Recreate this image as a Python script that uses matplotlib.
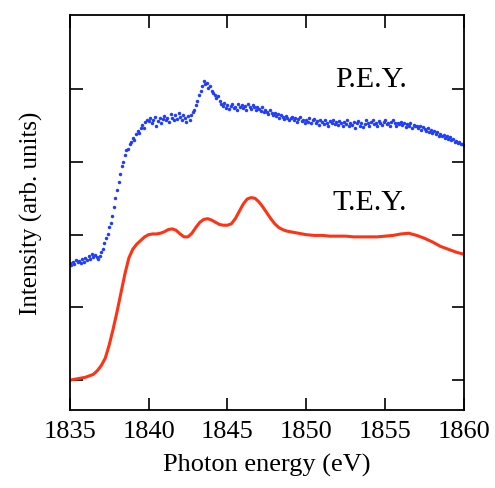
import matplotlib.pyplot as plt
import numpy as np

plt.rcParams['font.family'] = ['Liberation Serif', 'DejaVu Serif']

# P.E.Y. (partial electron yield), 0.1 eV steps from 1835 to 1860
pey = [
    1.61, 1.58, 1.62, 1.60, 1.65, 1.62, 1.64, 1.61, 1.66, 1.63,
    1.68, 1.65, 1.71, 1.67, 1.74, 1.69, 1.72, 1.70, 1.67, 1.71,
    1.76, 1.80, 1.88, 1.95, 2.01, 2.10, 2.16, 2.26, 2.38, 2.50,
    2.62, 2.73, 2.84, 2.95, 3.00, 3.09, 3.16, 3.18, 3.25, 3.28,
    3.33, 3.30, 3.38, 3.42, 3.40, 3.47, 3.51, 3.46, 3.55, 3.58,
    3.56, 3.61, 3.54, 3.58, 3.62, 3.50, 3.56, 3.60, 3.53, 3.59,
    3.63, 3.57, 3.61, 3.55, 3.66, 3.60, 3.58, 3.64, 3.59, 3.67,
    3.62, 3.57, 3.65, 3.60, 3.55, 3.63, 3.58, 3.64, 3.68, 3.72,
    3.78, 3.84, 3.92, 3.98, 4.05, 4.11, 4.07, 4.09, 4.02, 4.04,
    3.98, 3.95, 3.92, 3.88, 3.90, 3.84, 3.80, 3.77, 3.81, 3.74,
    3.78, 3.73, 3.77, 3.80, 3.74, 3.76, 3.71, 3.79, 3.75, 3.78,
    3.74, 3.77, 3.72, 3.80, 3.76, 3.73, 3.78, 3.75, 3.71, 3.76,
    3.73, 3.70, 3.75, 3.68, 3.72, 3.69, 3.66, 3.71, 3.67, 3.64,
    3.67, 3.63, 3.66, 3.60, 3.64, 3.62, 3.59, 3.63, 3.61, 3.57,
    3.60, 3.62, 3.57, 3.61, 3.55, 3.59, 3.62, 3.56, 3.58, 3.54,
    3.58, 3.55, 3.60, 3.53, 3.57, 3.59, 3.54, 3.56, 3.51, 3.57,
    3.55, 3.52, 3.58, 3.54, 3.50, 3.56, 3.53, 3.57, 3.52, 3.55,
    3.51, 3.56, 3.53, 3.49, 3.55, 3.52, 3.57, 3.50, 3.54, 3.51,
    3.55, 3.47, 3.53, 3.56, 3.50, 3.54, 3.48, 3.52, 3.57, 3.53,
    3.50, 3.55, 3.58, 3.52, 3.54, 3.49, 3.56, 3.53, 3.51, 3.55,
    3.57, 3.52, 3.54, 3.50, 3.55, 3.58, 3.53, 3.49, 3.54, 3.52,
    3.55, 3.51, 3.53, 3.48, 3.52, 3.50, 3.54, 3.47, 3.51, 3.49,
    3.50, 3.46, 3.49, 3.44, 3.48, 3.45, 3.42, 3.46, 3.41, 3.44,
    3.40, 3.43, 3.38, 3.41, 3.36, 3.39, 3.35, 3.37, 3.33, 3.35,
    3.32, 3.34, 3.30, 3.31, 3.28, 3.29, 3.26, 3.27, 3.24, 3.25,
    3.23,
]
pey_energy = np.linspace(1835, 1860, len(pey))

# T.E.Y. (total electron yield)
tey_energy = [
    1835.0, 1835.25, 1835.5, 1835.75, 1836.0, 1836.25, 1836.5, 1836.75,
    1837.0, 1837.25, 1837.5, 1837.75, 1838.0, 1838.25, 1838.5, 1838.75,
    1839.0, 1839.25, 1839.5, 1839.75, 1840.0, 1840.25, 1840.5, 1840.75,
    1841.0, 1841.25, 1841.5, 1841.75, 1842.0, 1842.25, 1842.5, 1842.75,
    1843.0, 1843.25, 1843.5, 1843.75, 1844.0, 1844.25, 1844.5, 1844.75,
    1845.0, 1845.25, 1845.5, 1845.75, 1846.0, 1846.25, 1846.5, 1846.75,
    1847.0, 1847.25, 1847.5, 1847.75, 1848.0, 1848.25, 1848.5, 1848.75,
    1849.0, 1849.5, 1850.0, 1850.5, 1851.0, 1851.5, 1852.0, 1852.5,
    1853.0, 1853.5, 1854.0, 1854.5, 1855.0, 1855.5, 1856.0, 1856.5,
    1857.0, 1857.5, 1858.0, 1858.5, 1859.0, 1859.5, 1860.0,
]
tey = [
    0.00, 0.01, 0.02, 0.03, 0.04, 0.06, 0.08, 0.13,
    0.20, 0.30, 0.48, 0.70, 0.94, 1.20, 1.46, 1.68,
    1.80, 1.87, 1.92, 1.97, 2.00, 2.01, 2.01, 2.02,
    2.04, 2.07, 2.08, 2.06, 2.01, 1.97, 1.97, 2.02,
    2.10, 2.17, 2.21, 2.22, 2.20, 2.17, 2.14, 2.13,
    2.13, 2.15, 2.22, 2.32, 2.42, 2.49, 2.51, 2.50,
    2.45, 2.38, 2.30, 2.22, 2.15, 2.10, 2.07, 2.05,
    2.04, 2.02, 2.00, 1.99, 1.99, 1.98, 1.98, 1.98,
    1.97, 1.97, 1.97, 1.97, 1.98, 1.99, 2.01, 2.02,
    1.99, 1.95, 1.90, 1.84, 1.80, 1.76, 1.73,
]

fig = plt.figure(figsize=(4.95, 4.89), dpi=100)
ax = fig.add_axes([0.1408, 0.1595, 0.7966, 0.8078])

ax.plot(tey_energy, tey, color='#ff3314', lw=2.2)
ax.plot(pey_energy, pey, 'o', color='#1f3dff', ms=2.5, mew=0)

ax.text(1854.1, 4.14, 'P.E.Y.', fontsize=21.5, ha='center', va='center')
ax.text(1854.0, 2.45, 'T.E.Y.', fontsize=21.5, ha='center', va='center')

ax.set_xlim(1835, 1860)
ax.set_ylim(-0.41, 5.02)
ax.set_xticks([1835, 1840, 1845, 1850, 1855, 1860])
ax.set_yticks([0, 1, 2, 3, 4])
ax.tick_params(direction='in', length=9, width=1.2, labelsize=19,
               top=True, right=True, labelleft=False, pad=7)
for s in ax.spines.values():
    s.set_linewidth(1.3)

ax.set_xlabel('Photon energy (eV)', fontsize=19, labelpad=8)
ax.set_ylabel('Intensity (arb. units)', fontsize=18, labelpad=19)

fig.savefig('out.png', dpi=100)
